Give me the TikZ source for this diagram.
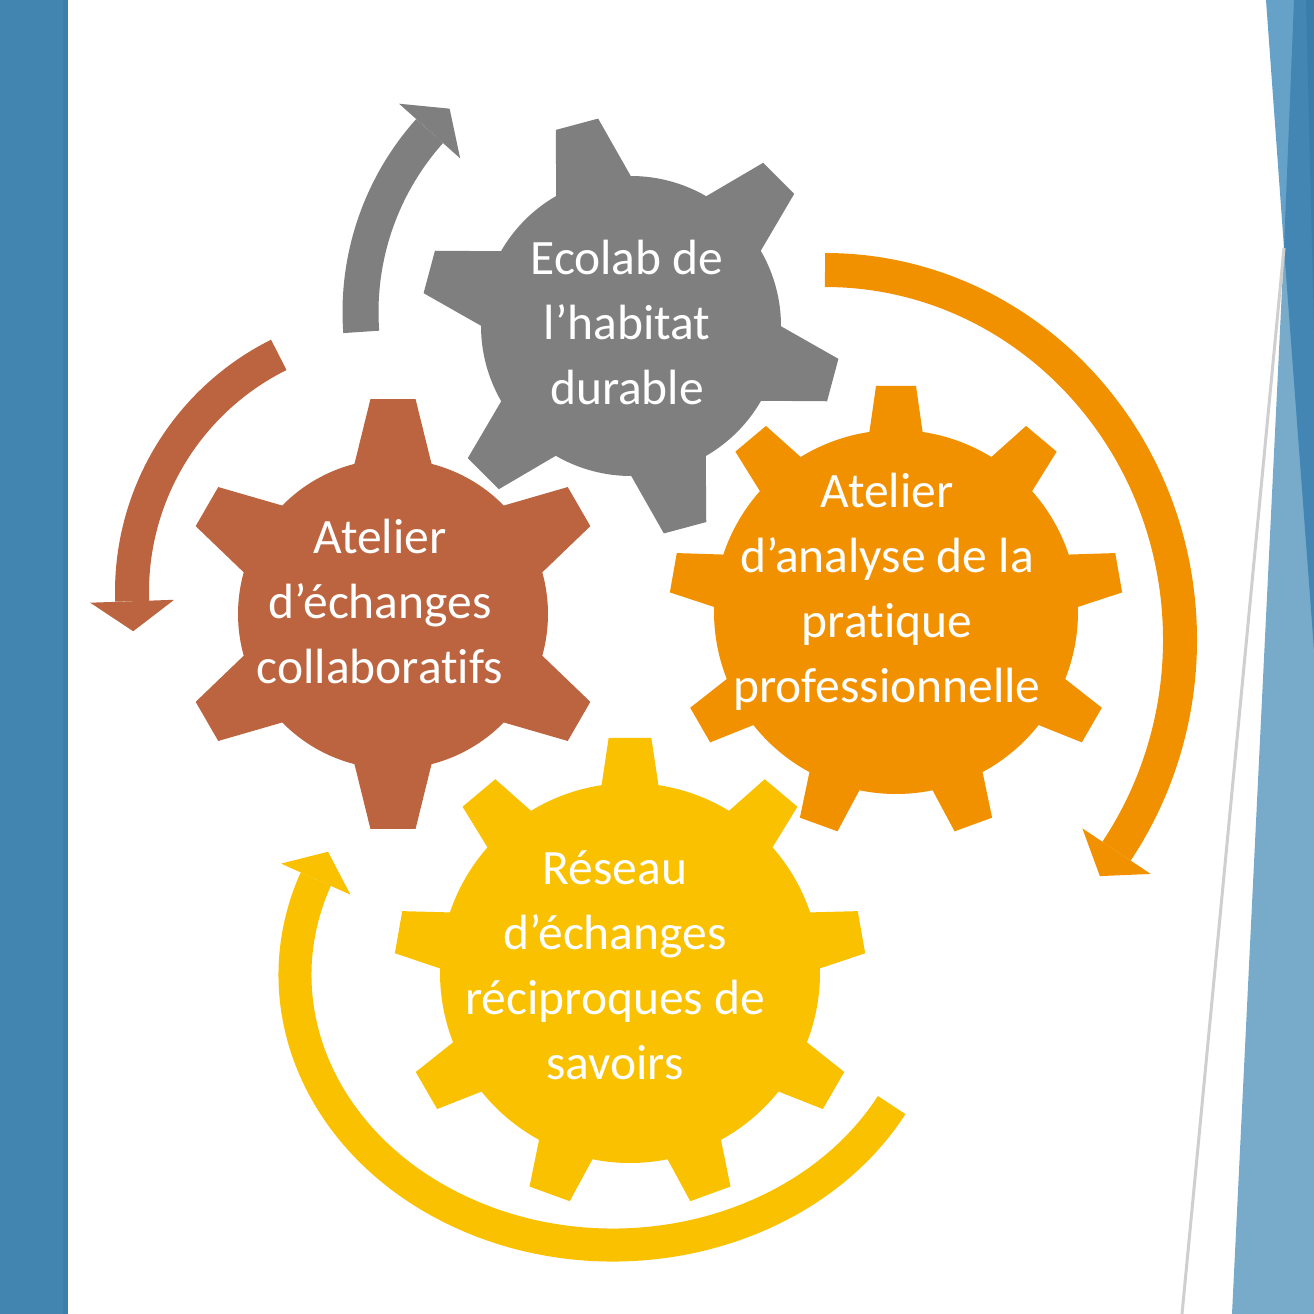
\documentclass[tikz,border=0pt]{standalone}
\usepackage{fontspec}
\setmainfont{Carlito}[Ligatures={NoCommon,NoRequired,NoContextual}]
\usetikzlibrary{calc}
\definecolor{gearGray}{HTML}{7F7F7F}
\definecolor{gearBrown}{HTML}{BC643F}
\definecolor{gearOrange}{HTML}{F29100}
\definecolor{gearYellow}{HTML}{F9C100}
\definecolor{leftBlue}{HTML}{4285B1}
\definecolor{leftBlueEdge}{HTML}{3C7FAB}
\definecolor{rBlueUpper}{HTML}{66A1C7}
\definecolor{rBlueLight}{HTML}{78AACA}
\definecolor{rBlueDark}{HTML}{4386B3}
\definecolor{rBlueDarker}{HTML}{3A7DAA}
\definecolor{lineGray}{HTML}{CFCFCF}
% gear: color, cx, cy, n teeth, body radius, tip radius, first tooth angle, half base angle, half tip angle
\newcommand\gearshape[9]{%
  \fill[#1, shift={(#2,#3)}] ({#7-#8}:#5)
    foreach \k in {1,...,#4}{
      -- ({#7+(\k-1)*360/#4-#9}:#6) -- ({#7+(\k-1)*360/#4+#9}:#6)
      -- ({#7+(\k-1)*360/#4+#8}:#5)
      arc[start angle={#7+(\k-1)*360/#4+#8}, end angle={#7+\k*360/#4-#8}, radius=#5]
    } -- cycle;}
% arrow on an ellipse: color, cx, cy, rx, ry, start, end, band width, tip offset (0 = increasing, 180 = decreasing)
\newcommand\headhw{41}
\newcommand\headlen{30}
\newcommand\ringarrow[9]{%
  \draw[#1, line width=#8pt] ($(#2,#3)+(#6:#4 and #5)$) arc[start angle=#6, end angle=#7, x radius=#4, y radius=#5];
  \pgfmathsetmacro\tauang{atan2(#5*cos(#7), -#4*sin(#7)) + #9}
  \pgfmathsetmacro\nuang{atan2(#4*sin(#7), #5*cos(#7))}
  \fill[#1] ($(#2,#3)+(#7:#4 and #5)+(\nuang:\headhw)$)
    -- ($(#2,#3)+(#7:#4 and #5)+(\tauang:\headlen)$)
    -- ($(#2,#3)+(#7:#4 and #5)+(\nuang+180:\headhw)$) -- cycle;}
\tikzset{gtext/.style={text=white, align=center, inner sep=0pt, font=\fontsize{49.5}{65}\selectfont}}
\begin{document}
\begin{tikzpicture}[x=1pt,y=-1pt]
\useasboundingbox (0,0) rectangle (1314,1314);
\fill[white] (0,0) rectangle (1314,1314);
% left band
\fill[leftBlue] (0,0) rectangle (68,1314);
\fill[leftBlueEdge] (63,0) rectangle (68,1314);
% right decoration
\fill[rBlueUpper] (1266,0) -- (1314,0) -- (1314,248) -- (1284,248) -- cycle;
\fill[rBlueLight] (1284,248) -- (1314,248) -- (1314,1314) -- (1232,1314) -- cycle;
\fill[rBlueDark] (1294,0) -- (1314,0) -- (1314,650) -- (1284,248) -- cycle;
\fill[rBlueDarker] (1306,0) -- (1314,0) -- (1314,330) -- cycle;
\draw[lineGray, line width=3pt] (1284,248) -- (1182,1314);
% arrows
\renewcommand\headhw{41}
\ringarrow{gearGray}{632}{312}{271.5}{271.5}{175.8}{221.8}{36}{0}
\renewcommand\headhw{42}
\ringarrow{gearBrown}{397}{592}{265}{265}{243.5}{178}{34}{180}
\renewcommand\headhw{41}
\ringarrow{gearOrange}{825}{640}{355}{370}{-90}{34.8}{34}{0}
\renewcommand\headhw{38}
\ringarrow{gearYellow}{613}{975}{318}{270}{28.8}{200.8}{33}{0}
% gears
\gearshape{gearGray}{631}{326}{6}{150}{210}{255}{14.9}{6}
\gearshape{gearBrown}{393}{614}{6}{155}{216}{270}{14.4}{6}
\gearshape{gearOrange}{896}{612}{9}{182}{227}{270}{8.4}{5.05}
\gearshape{gearYellow}{630}{973}{9}{190}{236}{270}{8.6}{5.2}
% texts
\node[gtext] (ecolab) at (627,322) {Ecolab de\\l’habitat\\durable};
\node[gtext] (collab) at (380,601) {Atelier\\d’échanges\\collaboratifs};
\node[gtext] (analyse) at (887,592) {Atelier\\d’analyse de la\\pratique\\professionnelle};
\node[gtext] (reseau) at (615,965) {Réseau\\d’échanges\\réciproques de\\savoirs};
\end{tikzpicture}
\end{document}
